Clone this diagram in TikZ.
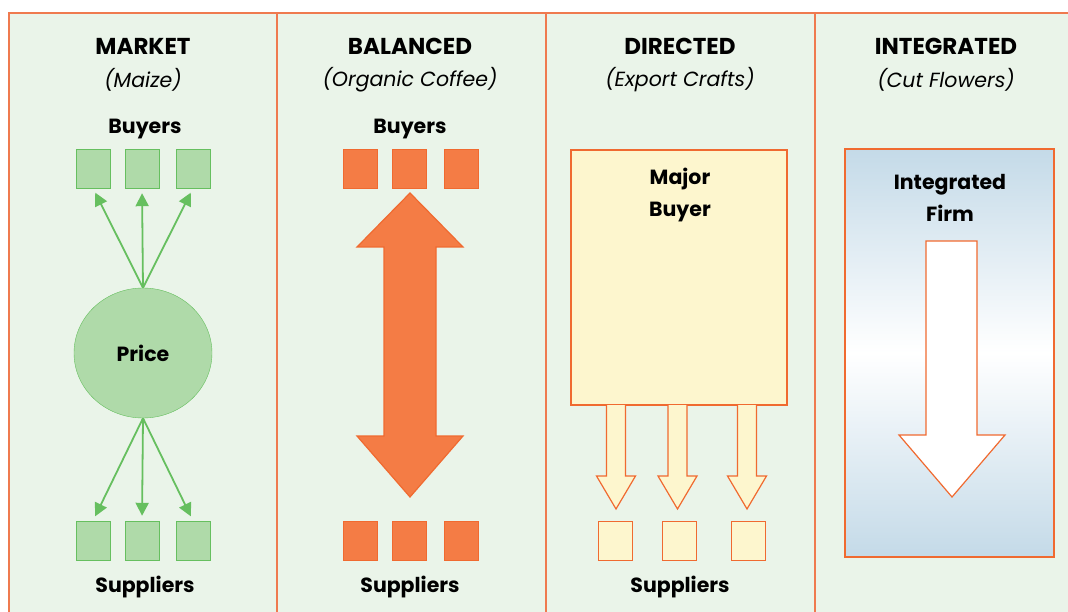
\documentclass[tikz,border=0pt]{standalone}
\usepackage{fontspec}
\setmainfont{Poppins}
\usetikzlibrary{arrows.meta,positioning,shapes.geometric}

\definecolor{panelbg}{HTML}{EAF4E9}
\definecolor{frameor}{HTML}{EF7A4F}
\definecolor{gfill}{HTML}{AFDAA9}
\definecolor{gline}{HTML}{66BF5F}
\definecolor{ofill}{HTML}{F47C45}
\definecolor{oline}{HTML}{F06A30}
\definecolor{yfill}{HTML}{FDF6CE}
\definecolor{bfirm}{HTML}{C4DAE8}

\tikzset{
  title/.style={font=\bfseries\fontsize{23}{28}\selectfont},
  subtitle/.style={font=\itshape\fontsize{20.5}{24}\selectfont},
  tag/.style={font=\bfseries\fontsize{20.5}{32}\selectfont},
  gbox/.style={draw=gline,fill=gfill,minimum width=34,minimum height=39,inner sep=0},
  obox/.style={draw=oline,fill=ofill,minimum width=34,minimum height=39,inner sep=0},
  ybox/.style={draw=oline,fill=yfill,minimum width=34,minimum height=39,inner sep=0},
  garrow/.style={draw=gline,line width=1.8,-{Triangle[length=13,width=13]}},
  oshape/.style={draw=oline,line width=1.2},
}

\begin{document}
\begin{tikzpicture}[x=1pt,y=-1pt]
		\useasboundingbox (0,0) rectangle (1068,612);
		\fill[panelbg] (9,13) rectangle (1075,620);
		\draw[frameor,line width=1.5] (9,620) -- (9,13) -- (1075,13);
		\foreach \x in {277,546,815}
			\draw[frameor,line width=1.5] (\x,13) -- (\x,620);

		% headings
		\node[title] (tmarket) at (143,46) {MARKET};
		\node[title] (tbalanced) at (410,46) {BALANCED};
		\node[title] (tdirected) at (680,46) {DIRECTED};
		\node[title] (tintegrated) at (946,46) {INTEGRATED};
		\node[subtitle] (smarket) at (143,80) {(Maize)};
		\node[subtitle] (sbalanced) at (410,80) {(Organic Coffee)};
		\node[subtitle] (sdirected) at (680,80) {(Export Crafts)};
		\node[subtitle] (sintegrated) at (946,80) {(Cut Flowers)};

		% market
		\node[tag] (mbuyers) at (145,129) {Buyers};
		\node[gbox] (mba) at (93,168.5) {};
		\node[gbox] (mbb) at (142,168.5) {};
		\node[gbox] (mbc) at (193,168.5) {};
		\node[draw=gline,fill=gfill,ellipse,minimum width=138,minimum height=130,inner sep=0,tag] (price) at (143,353) {Price};
		\node[gbox] (msa) at (93,540.5) {};
		\node[gbox] (msb) at (142,540.5) {};
		\node[gbox] (msc) at (193,540.5) {};
		\node[tag] (msuppliers) at (145,587) {Suppliers};

		\begin{scope}[shorten >=5]
			\path[garrow] (price.north) -- (mba.south);
			\path[garrow] (price.north) -- (mbb.south);
			\path[garrow] (price.north) -- (mbc.south);
			\path[garrow] (price.south) -- (msa.north);
			\path[garrow] (price.south) -- (msb.north);
			\path[garrow] (price.south) -- (msc.north);
		\end{scope}

		% balanced
		\node[tag] (bbuyers) at (410,129) {Buyers};
		\node[obox] (bba) at (360,168.5) {};
		\node[obox] (bbb) at (409.5,168.5) {};
		\node[obox] (bbc) at (461,168.5) {};
		\node[obox] (bsa) at (360,540.5) {};
		\node[obox] (bsb) at (409.5,540.5) {};
		\node[obox] (bsc) at (461,540.5) {};
		\node[tag] (bsuppliers) at (410,587) {Suppliers};
		\draw[oshape,fill=ofill] (410,193) -- (463,247) -- (436,247) -- (436,436)
			-- (463,436) -- (410,497) -- (357,436) -- (384,436) -- (384,247)
			-- (357,247) -- cycle;

		% directed
		\node[oshape,fill=yfill,minimum width=216,minimum height=255,inner sep=0] (major) at (679,277.5) {};
		\node[tag,align=center] (majortext) at (680,195) {Major\\Buyer};
		\foreach \x in {616,677.5,747}
			\draw[oshape,fill=yfill] (\x-9.5,405) -- (\x-9.5,476) -- (\x-19.5,476) -- (\x,509)
				-- (\x+19.5,476) -- (\x+9.5,476) -- (\x+9.5,405);
		\node[ybox] (dsa) at (615.5,541) {};
		\node[ybox] (dsb) at (679.5,541) {};
		\node[ybox] (dsc) at (748,541) {};
		\node[tag] (dsuppliers) at (680,587) {Suppliers};

		% integrated
		\shade[top color=bfirm,bottom color=bfirm,middle color=white] (845,149) rectangle (1054,557);
		\draw[oshape] (845,149) rectangle (1054,557);
		\node[tag,align=center] (firm) at (950,198) {Integrated\\Firm};
		\draw[oshape,fill=white] (926,241) -- (977,241) -- (977,435) -- (1005,435)
			-- (952,497) -- (899,435) -- (926,435) -- cycle;
	\end{tikzpicture}
\end{document}
